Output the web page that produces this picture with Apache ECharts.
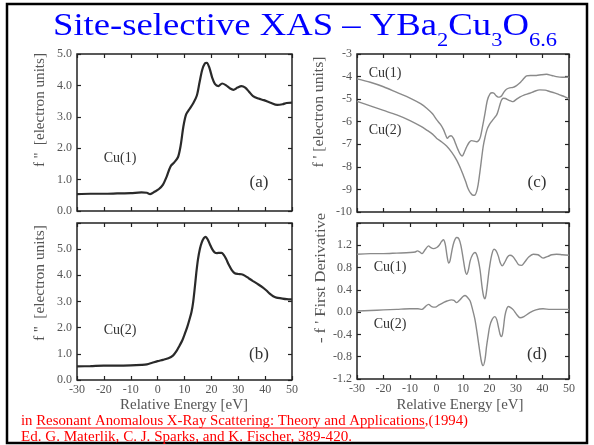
<!DOCTYPE html>
<html><head><meta charset="utf-8">
<script src="https://cdn.jsdelivr.net/npm/echarts@6/dist/echarts.min.js"></script>
<style>html,body{margin:0;padding:0;background:#fff}#c{width:594px;height:445px}</style>
</head><body><div id="c"></div>
<script>
// ---------- data ----------
const energyA = [-30,-25,-20,-15,-10,-6,-4,-2.8,-1,0.5,2,3.3,4.8,6.2,7.6,8.6,9.6,10.6,11.8,13.3,14.6,15.6,16.6,17.6,18.3,19.3,20.3,21.3,22.6,24.0,25.5,27.0,28.2,29.7,31.2,32.6,34.0,35.5,37.5,39.5,42,44.5,46.5,48,50];
const fppCu1  = [0.54,0.55,0.55,0.56,0.57,0.59,0.58,0.54,0.62,0.7,0.84,1.08,1.42,1.55,1.72,2.1,2.7,3.08,3.24,3.44,3.68,4.1,4.5,4.7,4.72,4.55,4.25,4.05,3.98,4.06,4.0,3.9,3.86,3.93,3.98,3.93,3.8,3.66,3.58,3.53,3.45,3.38,3.4,3.44,3.45];

const energyB = [-30,-25,-20,-15,-10,-6,-4,-2,0,2,4,5.7,7,8.2,9.2,10.1,11.1,11.9,12.6,13.2,13.8,14.4,15.0,15.7,16.4,17.2,17.9,18.6,19.4,20.3,21.2,22.1,23.0,23.8,24.6,25.5,26.5,27.6,28.7,30.0,31.2,32.4,34,35.5,37.5,39.2,40.5,41.7,43,44.2,46,48,50];
const fppCu2  = [0.52,0.53,0.55,0.55,0.56,0.58,0.6,0.66,0.72,0.77,0.83,0.93,1.1,1.32,1.52,1.76,2.05,2.33,2.6,2.96,3.5,4.1,4.6,5.0,5.25,5.42,5.47,5.38,5.2,5.0,4.88,4.85,4.86,4.86,4.78,4.62,4.4,4.2,4.08,4.05,4.04,3.99,3.88,3.78,3.65,3.53,3.42,3.3,3.2,3.15,3.12,3.09,3.08];

const energyC1 = [-30,-25,-20,-15,-10,-6,-3.7,-1.5,0.1,1.5,2.6,3.5,4.1,4.8,5.5,6.4,7.3,8.2,9.0,9.7,10.5,11.4,12.3,13.2,14.2,15.1,16.0,16.6,17.4,18.3,19.2,20.2,21.0,21.7,22.5,23.3,24.0,24.6,25.5,26.4,27.6,28.9,30.2,31.4,32.7,34.0,35.5,37.7,39.5,41.5,43.5,45.2,47.5,50];
const fpCu1    = [-4.1,-4.25,-4.45,-4.7,-4.95,-5.2,-5.4,-5.65,-5.92,-6.12,-6.34,-6.6,-6.74,-6.65,-6.62,-6.74,-7.0,-7.26,-7.45,-7.52,-7.35,-7.11,-6.92,-6.84,-6.86,-6.89,-6.82,-6.66,-6.2,-5.63,-5.05,-4.77,-4.72,-4.74,-4.85,-4.91,-4.9,-4.85,-4.68,-4.56,-4.5,-4.48,-4.4,-4.29,-4.12,-3.97,-3.95,-3.95,-3.92,-3.9,-3.95,-4.0,-4.03,-4.02];

const energyC2 = [-30,-25,-20,-15,-10,-6,-3.7,-1.5,0.1,2,3.8,5.7,7.6,9.0,10.1,11.0,11.9,12.8,13.8,14.5,15.1,15.7,16.3,17.0,17.6,18.3,19.1,20.0,20.7,21.7,22.7,23.3,23.9,24.5,25.2,26.0,27.0,28.0,28.9,30,31.4,33,35.2,37,39,41,42.7,44.5,46.5,48.5,50];
const fpCu2    = [-5.1,-5.3,-5.5,-5.7,-5.95,-6.2,-6.37,-6.55,-6.74,-6.9,-7.08,-7.35,-7.7,-8.05,-8.37,-8.65,-8.96,-9.15,-9.26,-9.25,-9.11,-8.8,-8.3,-7.65,-7.11,-6.7,-6.34,-6.12,-6.0,-5.85,-5.7,-5.5,-5.26,-5.05,-4.96,-4.97,-5.03,-5.08,-5.11,-5.02,-4.91,-4.82,-4.74,-4.65,-4.59,-4.6,-4.66,-4.72,-4.81,-4.9,-5.0];

const energyD1 = [-30,-25,-20,-15,-10,-8,-7.2,-6.3,-5.5,-4.3,-3,-2.2,-1.2,0.1,1.0,1.8,2.6,3.3,4.0,4.6,5.1,5.8,6.6,7.6,8.4,9.2,10.0,10.8,11.4,12.0,12.7,13.6,14.5,15.4,16.4,17.2,17.8,18.3,18.9,19.9,20.8,21.7,22.5,23.3,24.1,24.8,25.8,26.8,27.7,28.8,30.0,31.0,32.1,33.3,34.8,36.5,38.3,40.2,42,43.5,45.3,47.5,50];
const derivCu1 = [1.04,1.05,1.05,1.06,1.07,1.08,1.1,1.08,1.05,1.12,1.19,1.16,1.14,1.16,1.2,1.26,1.3,1.22,1.0,0.88,0.92,1.1,1.26,1.34,1.32,1.2,0.98,0.75,0.68,0.75,0.92,1.03,1.07,1.0,0.77,0.45,0.28,0.24,0.38,0.77,1.02,1.13,1.1,1.01,0.88,0.83,0.9,0.99,1.02,1.0,0.92,0.85,0.84,0.9,0.99,1.04,1.03,0.97,1.0,1.03,1.04,1.03,1.02];

const energyD2 = [-30,-25,-20,-15,-10,-7,-5.5,-4.2,-3,-1.8,-0.5,1,2.6,4,5.7,6.6,7.6,8.8,10,10.8,11.8,12.7,13.6,14.5,15.4,16.4,17.0,17.6,18.3,18.9,19.5,20.1,21.0,22.0,22.7,23.3,24.0,24.6,25.2,25.8,26.5,27.1,28.0,29.0,30.2,31.5,33,35.2,37.5,40.2,43,46,50];
const derivCu2 = [0.02,0.03,0.04,0.05,0.06,0.06,0.05,0.1,0.14,0.1,0.09,0.13,0.17,0.2,0.22,0.21,0.17,0.22,0.28,0.3,0.26,0.2,0.05,-0.13,-0.4,-0.73,-0.9,-0.96,-0.85,-0.61,-0.42,-0.25,-0.13,-0.08,-0.13,-0.25,-0.4,-0.44,-0.3,-0.07,0.06,0.1,0.08,0.04,-0.04,-0.1,-0.08,-0.01,0.04,0.06,0.05,0.05,0.05];

const xRange = [-30, 50, 10];          // min, max, step
const yRangeA = [0, 5, 1];
const yRangeB = [0, 6, 1];
const yRangeC = [-10, -3, 1];
const yRangeD = [-1.2, 1.6, 0.4];

const yNames = ["f ''  [electron units]", "f ''  [electron units]", "f ' [electron units]", "- f ' First Derivative"];
const xName = "Relative Energy [eV]";
const panelTags = ["(a)", "(b)", "(c)", "(d)"];
const siteLabels = ["Cu(1)", "Cu(2)"];

// ---------- layout ----------
const FONT = '"Liberation Serif", "Times New Roman", serif';
const grids = [
  {left: 77,  top: 54,  width: 215, height: 157},
  {left: 77,  top: 223, width: 215, height: 157},
  {left: 357, top: 54,  width: 212, height: 158},
  {left: 357, top: 223, width: 212, height: 156}
];
const yRanges = [yRangeA, yRangeB, yRangeC, yRangeD];
const showX = [false, true, false, true];
const yFmt = [
  v => v.toFixed(1),
  v => v > 5.5 ? '' : v.toFixed(1),
  v => String(Math.round(v)),
  v => v > 1.5 ? '' : (Math.abs(v) < 1e-9 ? '0.0' : v.toFixed(1))
];

const xAxis = [], yAxis = [];
grids.forEach((g, i) => {
  const tick = {show: true, inside: true, length: 4, lineStyle: {color: '#222', width: 1.2}};
  const noLine = {show: false, onZero: false};
  xAxis.push({type: 'value', gridIndex: i, position: 'bottom', min: xRange[0], max: xRange[1], interval: xRange[2],
    axisLine: noLine, splitLine: {show: false}, axisTick: tick,
    axisLabel: {show: showX[i], color: '#555', fontFamily: FONT, fontSize: 12, margin: 4}});
  xAxis.push({type: 'value', gridIndex: i, position: 'top', min: xRange[0], max: xRange[1], interval: xRange[2],
    axisLine: noLine, splitLine: {show: false}, axisTick: tick, axisLabel: {show: false}});
  const r = yRanges[i];
  yAxis.push({type: 'value', gridIndex: i, position: 'left', min: r[0], max: r[1], interval: r[2],
    axisLine: noLine, splitLine: {show: false}, axisTick: tick,
    axisLabel: {color: '#555', fontFamily: FONT, fontSize: 12, margin: 5, formatter: yFmt[i]}});
  yAxis.push({type: 'value', gridIndex: i, position: 'right', min: r[0], max: r[1], interval: r[2],
    axisLine: noLine, splitLine: {show: false}, axisTick: tick, axisLabel: {show: false}});
});

function pairs(xs, ys) { return xs.map((x, k) => [x, ys[k]]); }
function line(i, xs, ys, color, w) {
  return {type: 'line', xAxisIndex: 2 * i, yAxisIndex: 2 * i, data: pairs(xs, ys), smooth: 0.3,
    showSymbol: false, symbol: 'none', lineStyle: {color: color, width: w}, animation: false};
}
const series = [
  line(0, energyA, fppCu1, '#2a2a2a', 2.2),
  line(1, energyB, fppCu2, '#2a2a2a', 2.2),
  line(2, energyC1, fpCu1, '#8a8a8a', 1.4),
  line(2, energyC2, fpCu2, '#8a8a8a', 1.4),
  line(3, energyD1, derivCu1, '#8a8a8a', 1.4),
  line(3, energyD2, derivCu2, '#8a8a8a', 1.4)
];

// ---------- text helpers ----------
const ctx = document.createElement('canvas').getContext('2d');
function tw(s, size) { ctx.font = size + 'px ' + FONT; return ctx.measureText(s).width; }
function txt(s, x, y, size, fill, align, vAlign, extra) {
  return Object.assign({type: 'text', x: x, y: y, silent: true,
    style: {text: s, fill: fill, fontSize: size, fontFamily: FONT, align: align || 'left', verticalAlign: vAlign || 'middle'}}, extra || {});
}
// text stretched along its own direction to a given length
function fitTxt(s, x, y, size, fill, align, len, rot) {
  return txt(s, x, y, size, fill, align, 'middle', {scaleX: len / tw(s, size), rotation: rot || 0});
}

const graphic = [];
// slide frame
graphic.push({type: 'rect', shape: {x: 7, y: 4, width: 580, height: 439}, style: {fill: 'none', stroke: '#000', lineWidth: 2.5}, silent: true});

// title with subscripts
const titleRuns = [["Site-selective XAS \u2013 YBa", false], ["2", true], ["Cu", false], ["3", true], ["O", false], ["6.6", true]];
const mainSize = 31, subSize = 19;
let tx = 0;
const titleKids = [];
titleRuns.forEach(([s, sub]) => {
  const size = sub ? subSize : mainSize;
  titleKids.push(txt(s, tx, sub ? 41 : 27, size, '#0000ff', 'left', 'middle'));
  tx += tw(s, size);
});
graphic.push({type: 'group', x: 53, y: 0, scaleX: 504 / tx, children: titleKids});

// y axis names (rotated, stretched to the reference length)
const yNamePos = [[40, 110, 114], [40, 283, 116], [319, 112, 111], [321, 278, 130]];
yNames.forEach((s, i) => graphic.push(fitTxt(s, yNamePos[i][0], yNamePos[i][1], 14, '#555', 'center', yNamePos[i][2], Math.PI / 2)));
// x axis names
graphic.push(fitTxt(xName, 184, 405, 14, '#555', 'center', 128));
graphic.push(fitTxt(xName, 460, 405, 14, '#555', 'center', 127));

// panel tags and site labels
const tagPos = [[259, 183], [259, 355], [537, 183], [537, 355]];
panelTags.forEach((s, i) => graphic.push(txt(s, tagPos[i][0], tagPos[i][1], 17, '#333', 'center', 'middle')));
graphic.push(txt(siteLabels[0], 120, 158, 14, '#333', 'center', 'middle'));
graphic.push(txt(siteLabels[1], 120, 330, 14, '#333', 'center', 'middle'));
graphic.push(txt(siteLabels[0], 385, 73, 14, '#333', 'center', 'middle'));
graphic.push(txt(siteLabels[1], 385, 130, 14, '#333', 'center', 'middle'));
graphic.push(txt(siteLabels[0], 390, 267, 14, '#333', 'center', 'middle'));
graphic.push(txt(siteLabels[1], 390, 324, 14, '#333', 'center', 'middle'));

// reference (red)
const refPre = "in ", refBook = "Resonant Anomalous X-Ray Scattering: Theory and Applications", refPost = ",(1994)";
const refLine2 = "Ed. G. Materlik, C. J. Sparks, and K. Fischer, 389-420.";
const refSize = 14.5, refX = 21;
const line1 = refPre + refBook + refPost;
const k1 = 447 / tw(line1, refSize);
graphic.push(fitTxt(line1, refX, 421, refSize, '#ff0000', 'left', 447));
const u0 = refX + k1 * tw(refPre, refSize), u1 = refX + k1 * tw(refPre + refBook, refSize);
graphic.push({type: 'line', shape: {x1: u0, y1: 428, x2: u1, y2: 428}, style: {stroke: '#ff0000', lineWidth: 1}, silent: true});
graphic.push(fitTxt(refLine2, refX, 437.5, refSize, '#ff0000', 'left', 331));

const chart = echarts.init(document.getElementById('c'), null, {renderer: 'canvas'});
chart.setOption({
  animation: false,
  backgroundColor: '#fff',
  grid: grids.map(g => Object.assign({show: true, borderColor: '#222', borderWidth: 1.5, backgroundColor: 'transparent'}, g)),
  xAxis: xAxis,
  yAxis: yAxis,
  series: series,
  graphic: graphic
});
</script>
</body></html>
